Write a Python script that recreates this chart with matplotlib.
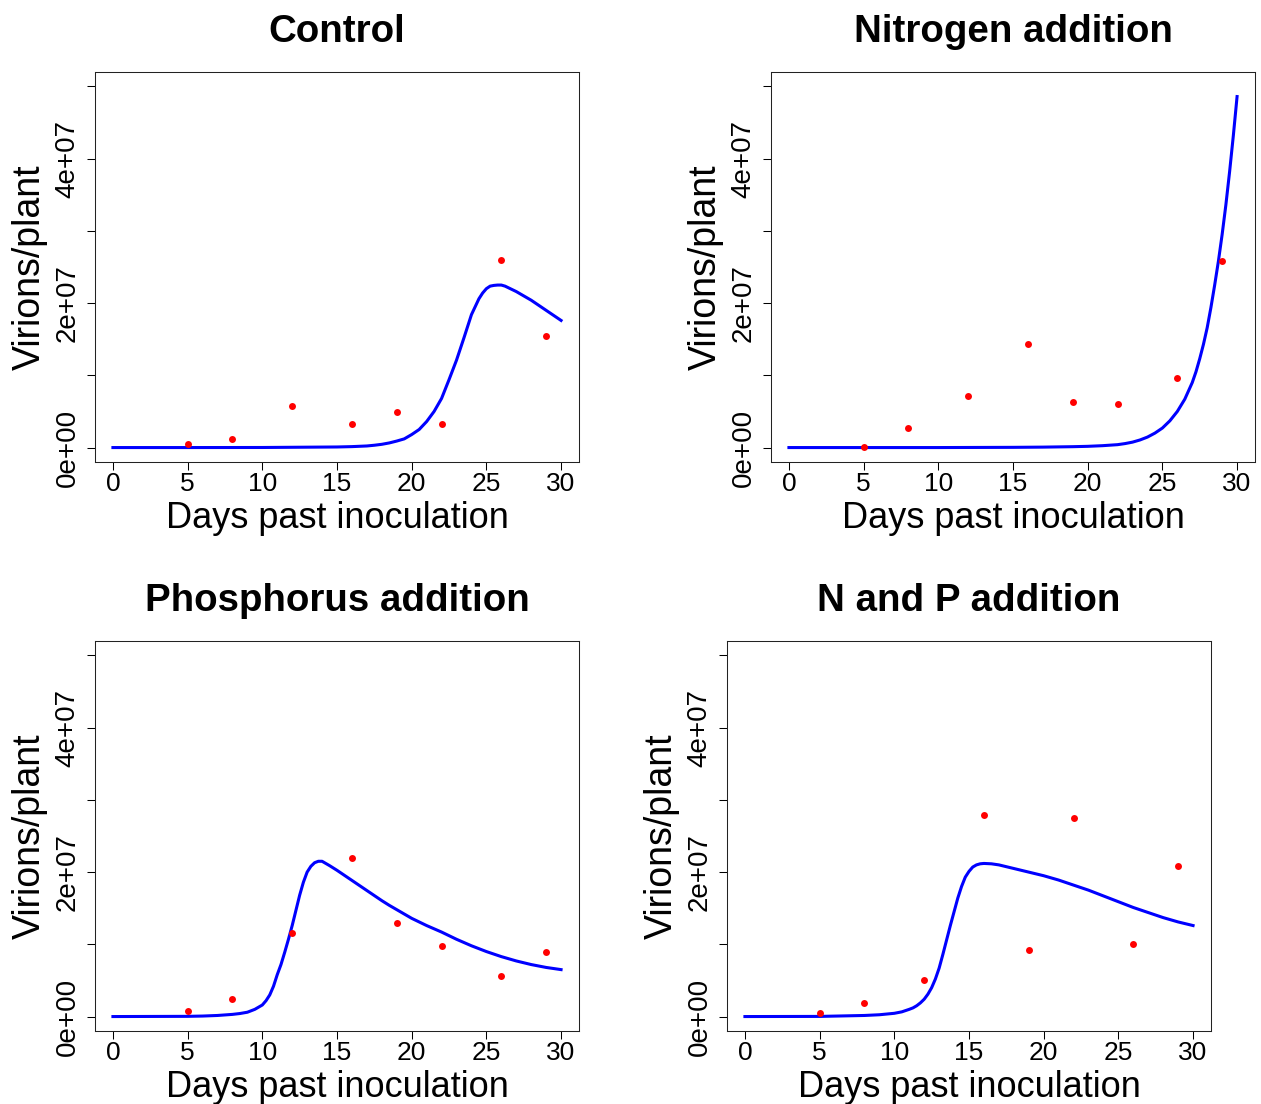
import numpy as np
import matplotlib
matplotlib.use('Agg')
import matplotlib.pyplot as plt

plt.rcParams['font.family'] = ['Liberation Sans', 'DejaVu Sans']

# values are in units of 1e7 virions/plant
SCALE = 1e7

obs_days = [5, 8, 12, 16, 19, 22, 26, 29]
control_obs = [0.05, 0.12, 0.58, 0.32, 0.49, 0.33, 2.60, 1.54]
nitrogen_obs = [0.005, 0.27, 0.71, 1.43, 0.63, 0.60, 0.97, 2.58]
phosphorus_obs = [0.08, 0.24, 1.16, 2.20, 1.30, 0.98, 0.56, 0.90]
np_obs = [0.05, 0.19, 0.50, 2.79, 0.92, 2.75, 1.00, 2.09]

# fitted model curves
control_t = [0, 5, 10, 15, 16, 17, 17.5, 18, 18.5, 19, 19.5, 20, 20.5, 21, 21.5, 22,
             22.5, 23, 23.5, 24, 24.5, 24.75, 25, 25.25, 25.5, 25.75, 26, 26.25, 26.5,
             27, 27.5, 28, 28.5, 29, 29.5, 30]
control_fit = [0, 0, 0.001, 0.008, 0.013, 0.022, 0.032, 0.045, 0.064, 0.09, 0.12, 0.18,
               0.25, 0.36, 0.50, 0.68, 0.94, 1.21, 1.52, 1.84, 2.06, 2.14, 2.20, 2.235,
               2.245, 2.25, 2.25, 2.235, 2.21, 2.16, 2.10, 2.04, 1.97, 1.90, 1.83, 1.76]

nitrogen_t = [0, 5, 10, 15, 17, 19, 20, 21, 22, 22.5, 23, 23.5, 24, 24.5, 25, 25.5, 26,
              26.5, 27, 27.25, 27.5, 27.75, 28, 28.25, 28.5, 28.75, 29, 29.25, 29.5,
              29.75, 30]
nitrogen_fit = [0, 0, 0, 0.003, 0.006, 0.012, 0.017, 0.026, 0.04, 0.055, 0.075, 0.105,
                0.145, 0.20, 0.27, 0.37, 0.50, 0.67, 0.90, 1.05, 1.23, 1.43, 1.66, 1.94,
                2.25, 2.58, 2.95, 3.36, 3.82, 4.32, 4.86]

phosphorus_t = [0, 5, 6, 7, 8, 8.5, 9, 9.5, 9.75, 10, 10.25, 10.5, 10.75, 11, 11.25,
                11.5, 11.75, 12, 12.25, 12.5, 12.75, 13, 13.25, 13.5, 13.75, 14, 14.25,
                14.5, 15, 15.5, 16, 16.5, 17, 17.5, 18, 18.5, 19, 19.5, 20, 20.5, 21,
                21.5, 22, 22.5, 23, 23.5, 24, 24.5, 25, 25.5, 26, 26.5, 27, 27.5, 28,
                28.5, 29, 29.5, 30]
phosphorus_fit = [0, 0.003, 0.007, 0.015, 0.03, 0.042, 0.06, 0.10, 0.13, 0.16, 0.22,
                  0.30, 0.42, 0.58, 0.72, 0.89, 1.07, 1.26, 1.47, 1.68, 1.86, 2.00, 2.08,
                  2.13, 2.15, 2.15, 2.12, 2.09, 2.025, 1.955, 1.885, 1.815, 1.745, 1.675,
                  1.605, 1.54, 1.48, 1.42, 1.36, 1.31, 1.26, 1.215, 1.17, 1.12, 1.07,
                  1.025, 0.98, 0.94, 0.90, 0.865, 0.83, 0.80, 0.77, 0.745, 0.72, 0.70,
                  0.68, 0.665, 0.65]

np_t = [0, 5, 8, 9, 10, 10.5, 11, 11.25, 11.5, 11.75, 12, 12.25, 12.5, 12.75, 13, 13.25,
        13.5, 13.75, 14, 14.25, 14.5, 14.75, 15, 15.25, 15.5, 15.75, 16, 16.5, 17, 17.5,
        18, 19, 20, 21, 22, 23, 24, 25, 26, 27, 28, 29, 30]
np_fit = [0, 0.002, 0.015, 0.025, 0.045, 0.065, 0.10, 0.12, 0.15, 0.19, 0.24, 0.31,
          0.40, 0.52, 0.67, 0.86, 1.06, 1.26, 1.45, 1.64, 1.80, 1.93, 2.01, 2.07, 2.10,
          2.115, 2.12, 2.115, 2.10, 2.075, 2.05, 2.00, 1.95, 1.89, 1.82, 1.75, 1.67,
          1.59, 1.51, 1.44, 1.37, 1.31, 1.26]

titles = ['Control', 'Nitrogen addition', 'Phosphorus addition', 'N and P addition']
obs = [control_obs, nitrogen_obs, phosphorus_obs, np_obs]
fit_t = [control_t, nitrogen_t, phosphorus_t, np_t]
fit_v = [control_fit, nitrogen_fit, phosphorus_fit, np_fit]

xticks = [0, 5, 10, 15, 20, 25, 30]
yticks = [0, 1, 2, 3, 4, 5]
ytick_labels = ['0e+00', '', '2e+07', '', '4e+07', '']

W, H = 1261, 1104
# plot regions in pixels: left, top, right, bottom
boxes = [(95, 72, 579, 462), (771, 72, 1255, 462),
         (95, 641, 579, 1031), (727, 641, 1211, 1031)]

fig = plt.figure(figsize=(W / 100, H / 100), dpi=100)

for i in range(4):
    l, t, r, b = boxes[i]
    ax = fig.add_axes([l / W, 1 - b / H, (r - l) / W, (b - t) / H])
    ax.plot(fit_t[i], np.array(fit_v[i]) * SCALE, color='#0000ff', lw=2.2,
            solid_joinstyle='round', zorder=2)
    ax.plot(obs_days, np.array(obs[i]) * SCALE, 'o', color='red', ms=5,
            markeredgewidth=0, zorder=3)
    ax.set_xlim(-1.2, 31.2)
    ax.set_ylim(-0.2 * SCALE, 5.2 * SCALE)
    ax.set_xticks(xticks)
    ax.set_xticklabels([str(x) for x in xticks], fontsize=19)
    ax.set_yticks([y * SCALE for y in yticks])
    ax.set_yticklabels(ytick_labels, fontsize=20, rotation=90, va='center')
    ax.tick_params(axis='x', length=5.5, width=0.75, pad=2)
    ax.tick_params(axis='y', length=5.5, width=0.75, pad=5)
    for s in ax.spines.values():
        s.set_linewidth(0.75)
        s.set_color('#222222')

    cx = (l + r) / 2
    fig.text(cx / W, 1 - (t - 30.3) / H, titles[i], fontsize=27.7,
             fontweight='bold', ha='center', va='baseline')
    fig.text(cx / W, 1 - (b + 65.7) / H, 'Days past inoculation', fontsize=26,
             ha='center', va='baseline')
    fig.text((l - 65) / W, 1 - ((t + b) / 2) / H, 'Virions/plant', fontsize=27,
             rotation=90, ha='center', va='center')

fig.savefig('out.png', dpi=100)
